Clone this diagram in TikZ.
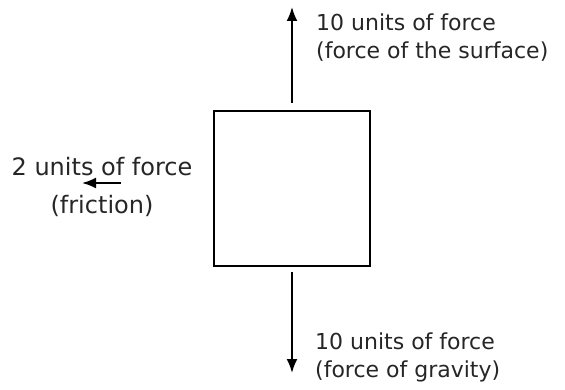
\documentclass[tikz,border=0pt]{standalone}
\usepackage{fontspec}
\setmainfont{DejaVu Sans}
\usetikzlibrary{arrows.meta}
\begin{document}
\begin{tikzpicture}[x=1pt,y=-1pt,
  force/.style={line width=2pt,-{Latex[length=14pt,width=11pt]}},
  lbl/.style={inner sep=0pt,font=\fontsize{22}{28.5}\selectfont,text=black!85}]
\useasboundingbox (0,0) rectangle (565,390);
\node[draw,line width=2pt,minimum width=156pt,minimum height=155pt,inner sep=0pt] (box) at (292,188.5) {};
\coordinate (upS) at (292,103);
\coordinate (upE) at (292,7);
\coordinate (dnS) at (292,272);
\coordinate (dnE) at (292,373);
\coordinate (lfS) at (121,183);
\coordinate (lfE) at (82,183);
\draw[force] (upS) -- (upE);
\draw[force] (dnS) -- (dnE);
\draw[force] (lfS) -- (lfE);
\node[lbl,anchor=west,align=left] (up) at (316,37.5) {10 units of force\\(force of the surface)};
\node[lbl,anchor=west,align=left] (dn) at (315,357.5) {10 units of force\\(force of gravity)};
\node[lbl,align=center,font=\fontsize{24}{38}\selectfont] (lf) at (102,187) {2 units of force\\(friction)};
\end{tikzpicture}
\end{document}
